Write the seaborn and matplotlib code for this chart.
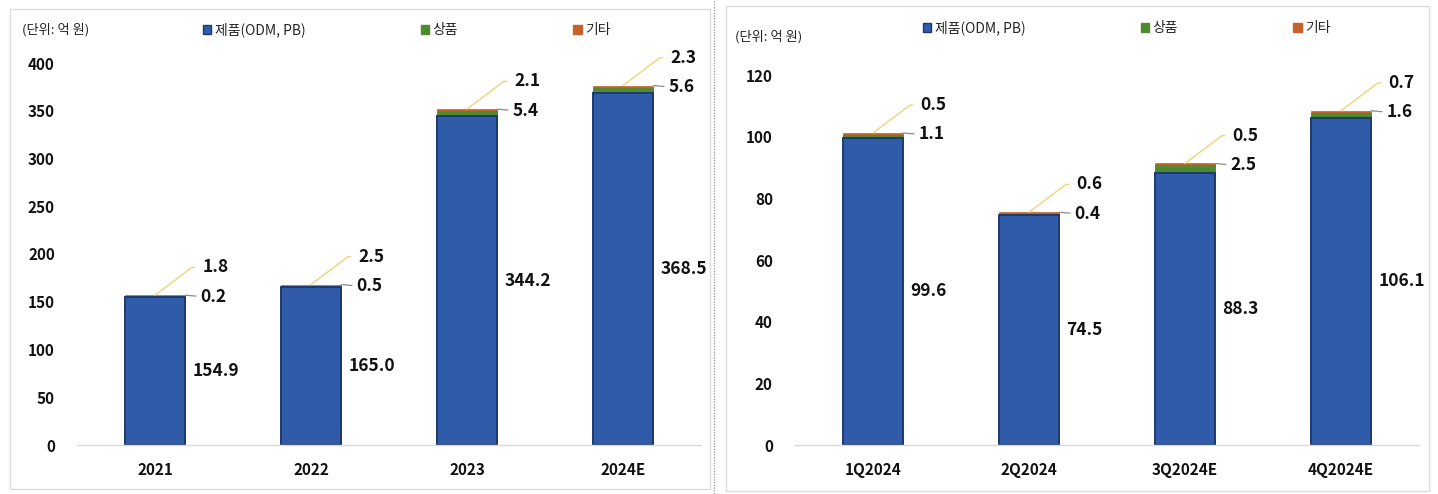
import matplotlib
matplotlib.use("Agg")
import matplotlib.pyplot as plt
import seaborn as sns
import pandas as pd
from matplotlib.patches import Rectangle, Patch
from matplotlib.lines import Line2D

# ---------------- data ----------------
years = ["2021", "2022", "2023", "2024E"]
years_product = [154.9, 165.0, 344.2, 368.5]
years_goods = [0.2, 0.5, 5.4, 5.6]
years_other = [1.8, 2.5, 2.1, 2.3]
years_yticks = [0, 50, 100, 150, 200, 250, 300, 350, 400]

quarters = ["1Q2024", "2Q2024", "3Q2024E", "4Q2024E"]
q_product = [99.6, 74.5, 88.3, 106.1]
q_goods = [1.1, 0.4, 2.5, 1.6]
q_other = [0.5, 0.6, 0.5, 0.7]
q_yticks = [0, 20, 40, 60, 80, 100, 120]

series_names = ["제품(ODM, PB)", "상품", "기타"]
unit_text = "(단위: 억 원)"

# ---------------- style ----------------
sns.set_theme(style="white")
plt.rcParams["font.family"] = ["Noto Sans CJK KR", "DejaVu Sans"]

C_BLUE = "#2F5BA8"
C_BLUE_EDGE = "#1d3a6e"
C_GREEN = "#4E8A30"
C_ORANGE = "#C4622A"
C_LEADER = "#F2D27A"
C_DASH = "#8c8c8c"

W, H = 1438, 494
fig = plt.figure(figsize=(W / 100, H / 100), dpi=100)
fig.patch.set_facecolor("white")


def fx(px):
    return px / W


def fy(py):
    return 1 - py / H


# panel frames and separator
fig.patches.append(Rectangle((fx(10), fy(489)), fx(700), (480) / H, transform=fig.transFigure,
                             fill=False, edgecolor="#dcdcdc", linewidth=1.0))
fig.patches.append(Rectangle((fx(726), fy(491)), fx(703), (485) / H, transform=fig.transFigure,
                             fill=False, edgecolor="#dcdcdc", linewidth=1.0))
fig.lines.append(Line2D([fx(714), fx(714)], [0, 1], transform=fig.transFigure,
                        color="#a0a0a0", linestyle=(0, (1, 1)), linewidth=1.0))


def panel(rect, cats, product, goods, other, yticks, header_xy, legend_xy):
    ax = fig.add_axes(rect)
    df = pd.DataFrame({"cat": cats, "product": product, "goods": goods, "other": other})
    df["pg"] = df["product"] + df["goods"]
    df["total"] = df["pg"] + df["other"]
    bw = 0.39
    sns.barplot(data=df, x="cat", y="total", order=cats, color=C_ORANGE, saturation=1,
                width=bw, ax=ax, edgecolor=C_ORANGE, linewidth=0.5)
    sns.barplot(data=df, x="cat", y="pg", order=cats, color=C_GREEN, saturation=1,
                width=bw, ax=ax, edgecolor=C_GREEN, linewidth=0.5)
    sns.barplot(data=df, x="cat", y="product", order=cats, color=C_BLUE, saturation=1,
                width=bw, ax=ax, edgecolor=C_BLUE_EDGE, linewidth=1.4)

    ax.set_xlim(-0.5, len(cats) - 0.5)
    ax.set_ylim(yticks[0], yticks[-1])
    ax.set_yticks(yticks)
    ax.set_yticklabels([str(t) for t in yticks], fontsize=11, fontweight="bold", color="#111111")
    ax.set_xticks(range(len(cats)))
    ax.set_xticklabels(cats, fontsize=11, fontweight="bold", color="#111111")
    ax.tick_params(axis="y", length=0, pad=16)
    ax.tick_params(axis="x", length=0, pad=12)
    ax.set_xlabel("")
    ax.set_ylabel("")
    for s in ["top", "right", "left"]:
        ax.spines[s].set_visible(False)
    ax.spines["bottom"].set_color("#d9d9d9")
    ax.spines["bottom"].set_linewidth(1.0)
    ax.set_facecolor("none")

    for i, row in df.iterrows():
        # product label (centre, right of bar)
        ax.annotate(f"{row['product']:.1f}", xy=(i + bw / 2, row["product"] / 2),
                    xytext=(5, 0), textcoords="offset points", ha="left", va="center",
                    fontsize=12.5, fontweight="bold", color="#111111")
        # goods label (bar top, short dash)
        ax.annotate(f"{row['goods']:.1f}", xy=(i + bw / 2, row["total"]),
                    xytext=(11, -1), textcoords="offset points", ha="left", va="center",
                    fontsize=12.5, fontweight="bold", color="#111111",
                    arrowprops=dict(arrowstyle="-", color=C_DASH, lw=0.9,
                                    shrinkA=1, shrinkB=0, relpos=(0, 0.5)))
        # other label (above, yellow leader)
        ax.annotate(f"{row['other']:.1f}", xy=(i, row["total"]),
                    xytext=(34, 20), textcoords="offset points", ha="left", va="center",
                    fontsize=12.5, fontweight="bold", color="#111111",
                    arrowprops=dict(arrowstyle="-", color=C_LEADER, lw=1.0,
                                    connectionstyle="angle,angleA=0,angleB=37,rad=0",
                                    shrinkA=3, shrinkB=0, relpos=(0, 0.5)))

    fig.text(fx(header_xy[0]), fy(header_xy[1]), unit_text, fontsize=9.5, color="#222222",
             ha="left", va="center")
    handles = [Patch(facecolor=C_BLUE, edgecolor=C_BLUE_EDGE),
               Patch(facecolor=C_GREEN, edgecolor=C_GREEN),
               Patch(facecolor=C_ORANGE, edgecolor=C_ORANGE)]
    fig.legend(handles, series_names, loc="center left",
               bbox_to_anchor=(fx(legend_xy[0]), fy(legend_xy[1])),
               ncol=3, frameon=False, fontsize=10, handlelength=0.6, handleheight=0.6,
               handletextpad=0.25, columnspacing=8.3, borderpad=0, borderaxespad=0)
    return ax


panel([fx(77), fy(445), fx(624), 382 / H], years, years_product, years_goods, years_other,
      years_yticks, (22, 30), (203, 30))
panel([fx(795), fy(445), fx(624), 370 / H], quarters, q_product, q_goods, q_other,
      q_yticks, (735, 37), (923, 28))

fig.savefig("out.png", dpi=100, facecolor="white")
